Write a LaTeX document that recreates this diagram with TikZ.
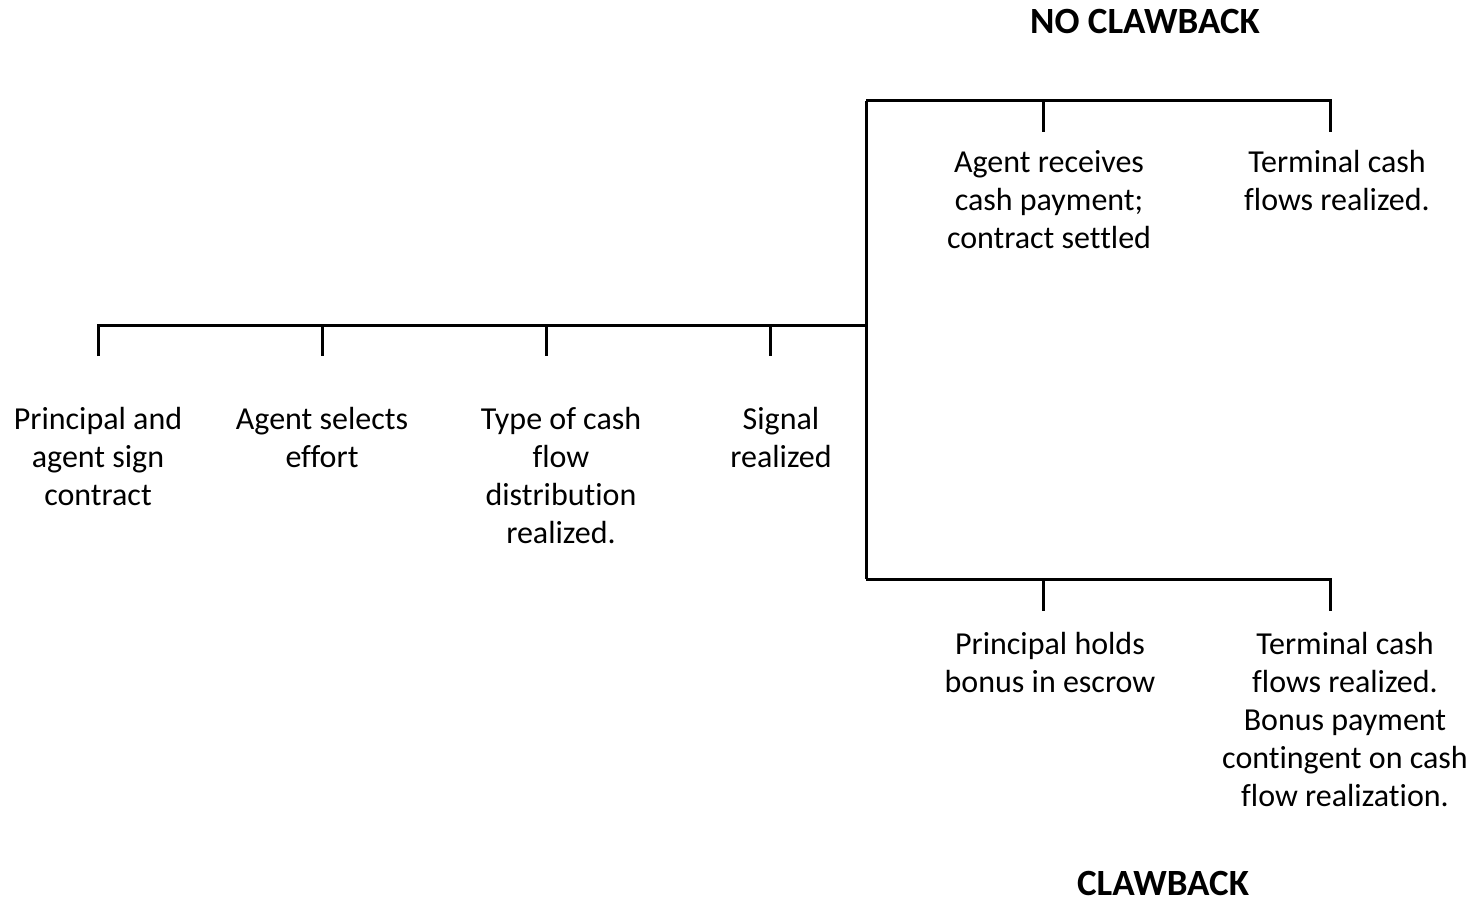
\documentclass[tikz,border=0pt]{standalone}
\usepackage{fontspec}
\setmainfont{Carlito}[Ligatures=NoCommon]
\begin{document}
\begin{tikzpicture}[x=1pt,y=-1pt,
  lbl/.style={align=center,inner sep=0pt,anchor=base,font=\fontsize{32}{38}\selectfont},
  ttl/.style={inner sep=0pt,anchor=base,text depth=0pt,font=\fontsize{37}{44}\selectfont\bfseries},
  ln/.style={line width=3pt}]
\useasboundingbox (0,0) rectangle (1477,901);
% junction coordinates
\coordinate (m0) at (98,325);
\coordinate (m1) at (322,325);
\coordinate (m2) at (546,325);
\coordinate (m3) at (770,325);
\coordinate (mj) at (866,325);
\coordinate (tj) at (866,101);
\coordinate (t1) at (1043,101);
\coordinate (t2) at (1330,101);
\coordinate (bj) at (866,579);
\coordinate (b1) at (1043,579);
\coordinate (b2) at (1330,579);
\coordinate (m0e) at (98,356);
\coordinate (m1e) at (322,356);
\coordinate (m2e) at (546,356);
\coordinate (m3e) at (770,356);
\coordinate (t1e) at (1043,132);
\coordinate (t2e) at (1330,132);
\coordinate (b1e) at (1043,611);
\coordinate (b2e) at (1330,611);
% lines
\draw[ln] (m0e) -- (m0) -- (mj);
\draw[ln] (m1) -- (m1e);
\draw[ln] (m2) -- (m2e);
\draw[ln] (m3) -- (m3e);
\draw[ln] (tj) -- (bj);
\draw[ln] (tj) -- (t2) -- (t2e);
\draw[ln] (t1) -- (t1e);
\draw[ln] (bj) -- (b2) -- (b2e);
\draw[ln] (b1) -- (b1e);
% labels (anchored at the baseline of the last line)
\node[lbl] (l0) at (98,505) {Principal and\\agent sign\\contract};
\node[lbl] (l1) at (322,467) {Agent selects\\effort};
\node[lbl] (l2) at (561,543) {Type of cash\\flow\\distribution\\realized.};
\node[lbl] (l3) at (781,467) {Signal\\realized};
\node[lbl] (lt1) at (1049,249) {Agent receives\\cash payment;\\contract settled};
\node[lbl] (lt2) at (1337,211) {Terminal cash\\flows realized.};
\node[lbl] (lb1) at (1050,692) {Principal holds\\bonus in escrow};
\node[lbl] (lb2) at (1345,806) {Terminal cash\\flows realized.\\Bonus payment\\contingent on cash\\flow realization.};
\node[ttl] (nc) at (1145,34) {NO CLAWBACK};
\node[ttl] (cb) at (1163,895) {CLAWBACK};
\end{tikzpicture}
\end{document}
